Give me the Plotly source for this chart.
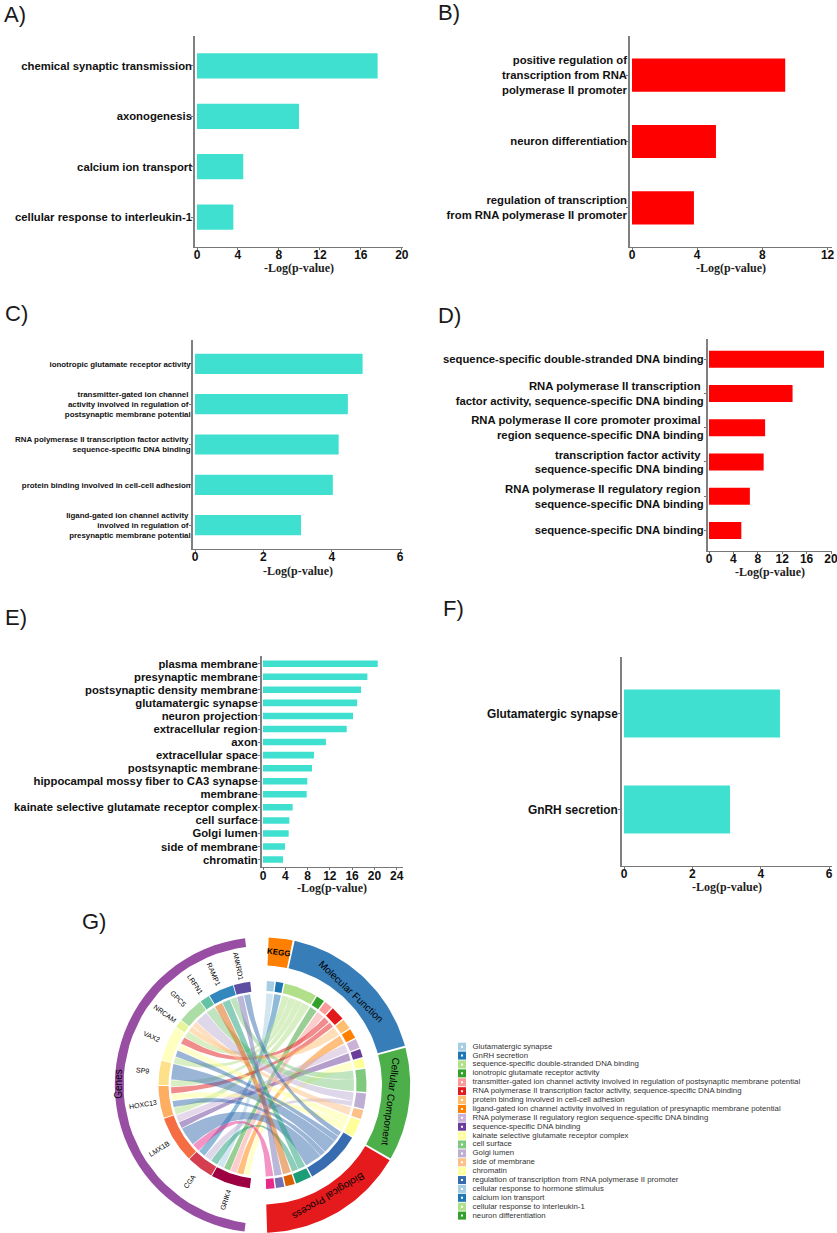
import math
import plotly.graph_objects as go

W, H = 837, 1233
TURQ, RED = "#40E0D0", "#FF0000"

# ---- bar data
a_labels = ["chemical synaptic transmission", "axonogenesis", "calcium ion transport", "cellular response to interleukin-1"]
a_values = [17.64, 9.96, 4.52, 3.55]
b_labels = ["positive regulation of<br>transcription from RNA<br>polymerase II promoter", "neuron differentiation",
            "regulation of transcription<br>from RNA polymerase II promoter"]
b_values = [9.4, 5.15, 3.8]
c_labels = ["ionotropic glutamate receptor activity",
            "transmitter-gated ion channel\u00a0<br>activity involved in regulation of\u00a0<br>postsynaptic membrane potential",
            "RNA polymerase II transcription factor activity\u00a0<br>sequence-specific DNA binding",
            "protein binding involved in cell-cell adhesion",
            "ligand-gated ion channel activity\u00a0<br>involved in regulation of\u00a0<br>presynaptic membrane potential"]
c_values = [4.9, 4.47, 4.2, 4.03, 3.1]
d_labels = ["sequence-specific double-stranded DNA binding",
            "RNA polymerase II transcription\u00a0<br>factor activity, sequence-specific DNA binding",
            "RNA polymerase II core promoter proximal\u00a0<br>region sequence-specific DNA binding",
            "transcription factor activity\u00a0<br>sequence-specific DNA binding",
            "RNA polymerase II regulatory region\u00a0<br>sequence-specific DNA binding",
            "sequence-specific DNA binding"]
d_values = [18.85, 13.7, 9.2, 8.96, 6.7, 5.3]
e_labels = ["plasma membrane", "presynaptic membrane", "postsynaptic density membrane", "glutamatergic synapse",
            "neuron projection", "extracellular region", "axon", "extracellular space", "postsynaptic membrane",
            "hippocampal mossy fiber to CA3 synapse", "membrane", "kainate selective glutamate receptor complex",
            "cell surface", "Golgi lumen", "side of membrane", "chromatin"]
e_values = [20.6, 18.74, 17.6, 16.9, 16.17, 15.03, 11.3, 9.16, 8.8, 7.96, 7.84, 5.33, 4.73, 4.61, 3.95, 3.6]
f_labels = ["Glutamatergic synapse", "GnRH secretion"]
f_values = [4.56, 3.1]

# ---- chord data
term_names = ["Glutamatergic synapse", "GnRH secretion", "sequence-specific double-stranded DNA binding",
              "ionotropic glutamate receptor activity",
              "transmitter-gated ion channel activity involved in regulation of postsynaptic membrane potential",
              "RNA polymerase II transcription factor activity, sequence-specific DNA binding",
              "protein binding involved in cell-cell adhesion",
              "ligand-gated ion channel activity involved in regulation of presynaptic membrane potential",
              "RNA polymerase II regulatory region sequence-specific DNA binding", "sequence-specific DNA binding",
              "kainate selective glutamate receptor complex", "cell surface", "Golgi lumen", "side of membrane",
              "chromatin", "regulation of transcription from RNA polymerase II promoter",
              "cellular response to hormone stimulus", "calcium ion transport", "cellular response to interleukin-1",
              "neuron differentiation"]
term_spans = [4.5, 4.5, 19.7, 5, 5, 8.4, 6, 5.9, 5.5, 5, 5.3, 13.8, 9.3, 5.4, 10.4, 33.3, 9.5, 5.5, 5, 5]
term_colors = ["#A6CEE3", "#1F78B4", "#B2DF8A", "#33A02C", "#FB9A99", "#E31A1C", "#FDBF6F", "#FF7F00", "#CAB2D6",
               "#6A3D9A", "#FFFF99", "#7FC97F", "#BEAED4", "#FDC086", "#FFFF99", "#386CB0", "#1B9E77", "#D95F02",
               "#7570B3", "#E7298A"]
legend_colors = term_colors[:16] + ["#A6CEE3", "#1F78B4", "#B2DF8A", "#33A02C"]
groups = ["KEGG", "Molecular Function", "Cellular Component", "Biological Process"]
group_counts = [2, 8, 5, 5]
group_colors = ["#FF7F00", "#377EB8", "#4DAF4A", "#E41A1C"]
gene_names = ["GRIK4", "CGA", "LMX1B", "HOXC13", "SP9", "VAX2", "NRCAM", "GPC5", "LRFN1", "RAMP1", "ANKRD1"]
gene_spans = [22.7, 15.5, 26.8, 18.4, 14, 20, 4.4, 14.7, 5.6, 14.5, 9.5]
gene_colors = ["#9E0142", "#D53E4F", "#F46D43", "#FDAE61", "#FEE08B", "#FFFFBF", "#E6F598", "#ABDDA4", "#66C2A5",
               "#3288BD", "#5E4FA2"]
link_terms = [10, 7, 4, 3, 0, 16, 12, 1, 19, 15, 9, 8, 2, 15, 14, 5, 2, 15, 2, 15, 14, 5, 2, 6, 13, 12, 11, 17, 16,
              11, 18, 15]
link_widths = [3.7, 4, 4, 4, 4, 4.5, 4.5, 4.5, 5, 12, 4, 4.2, 4.5, 4, 4, 4, 4, 10, 4, 4, 4, 4.5, 4, 3.5, 3.5, 8, 6,
               5, 5, 4, 4, 4]

# ---- page geometry
CX, CY = 262.5, 1085.0
R_LINK, R_IN0, R_IN1 = 91.5, 94.0, 104.0
R_G0, R_G1 = 119.5, 147.7
R_P0 = 139.0
RIGHT0, RIGHT1 = 2.4, 178.0
LEFT0, LEFT1 = 187.0, 353.2

fig = go.Figure()
anns = []


def label(x, y, text, size, angle=0, color="#000000", weight=400, align="center", family="Liberation Sans"):
    anns.append(dict(x=x, y=y, xref="x7", yref="y7", text=text, showarrow=False, textangle=angle, xanchor=align,
                     yanchor="middle", font=dict(family=family, size=size, color=color, weight=weight)))


def pt(theta, r):
    t = math.radians(theta)
    return CX + r * math.sin(t), CY - r * math.cos(t)


def arc(t0, t1, r, n=40):
    return [pt(t0 + (t1 - t0) * i / n, r) for i in range(n + 1)]


def add_poly(points, color, name):
    fig.add_trace(go.Scatter(x=[p[0] for p in points] + [points[0][0]], y=[p[1] for p in points] + [points[0][1]],
                             xaxis="x7", yaxis="y7", mode="lines", fill="toself", fillcolor=color,
                             line=dict(width=0), hoverinfo="text", text=name, showlegend=False))


def ring(t0, t1, r0, r1, color, name):
    add_poly(arc(t0, t1, r1) + arc(t1, t0, r0), color, name)


def rgba(h, a):
    return f"rgba({int(h[1:3],16)},{int(h[3:5],16)},{int(h[5:7],16)},{a})"


def bezier(p0, p2, n=40):
    out = []
    for i in range(n + 1):
        t = i / n
        out.append(((1 - t) ** 2 * p0[0] + 2 * t * (1 - t) * CX + t ** 2 * p2[0],
                    (1 - t) ** 2 * p0[1] + 2 * t * (1 - t) * CY + t ** 2 * p2[1]))
    return out


def bar_panel(idx, labels, values, color, x0, x1, ytop, ybot, zero, pxu, ticks, fs, title_y, standoff=-2, tfs=12):
    xn, yn = ("x" + str(idx), "y" + str(idx))
    fig.add_trace(go.Bar(y=labels, x=values, orientation="h", width=0.5, marker=dict(color=color, line=dict(width=0)),
                         xaxis=xn, yaxis=yn, showlegend=False, hovertemplate="%{x}<extra></extra>"))
    n = len(labels)
    m = 0.59
    fig.layout["xaxis" + str(idx)] = dict(
        domain=[x0 / W, x1 / W], range=[(x0 - zero) / pxu, (x1 - zero) / pxu], anchor=yn, tickvals=ticks,
        automargin=False, showgrid=False, zeroline=False, showline=True, linecolor="#777777", linewidth=1,
        ticks="outside", ticklen=2, tickcolor="#777777", ticklabelstandoff=-5, ticklabeloverflow="allow",
        tickfont=dict(family="Liberation Sans", size=tfs, color="#111111", weight=700))
    fig.layout["yaxis" + str(idx)] = dict(
        domain=[1 - ybot / H, 1 - ytop / H], range=[n - 1 + m, -m], anchor=xn, type="category",
        automargin=False, categoryorder="array", categoryarray=labels, tickmode="array", tickvals=labels,
        ticktext=labels, showgrid=False, zeroline=False, showline=True,
        linecolor="#808080", linewidth=1.5, ticks="outside", ticklen=2, tickcolor="#777777",
        ticklabelstandoff=standoff,
        tickfont=dict(family="Liberation Sans", size=fs, color="#111111", weight=700))
    label((x0 + x1) / 2, title_y, "-Log(p-value)", 12, color="#222222", weight=700, family="Liberation Serif")


bar_panel(1, a_labels, a_values, TURQ, 195, 402.7, 36, 247, 197, 10.24, [0, 4, 8, 12, 16, 20], 11.3, 268, -3)
bar_panel(2, b_labels, b_values, RED, 630, 832, 36, 247, 632, 16.3, [0, 4, 8, 12], 11.3, 268, -3)
bar_panel(3, c_labels, c_values, TURQ, 193, 402, 340, 549, 195, 34.2, [0, 2, 4, 6], 7.9, 571, -3)
bar_panel(4, d_labels, d_values, RED, 707.7, 832, 339, 550.7, 709, 6.1, [0, 4, 8, 12, 16, 20], 11.3, 572)
bar_panel(5, e_labels, e_values, TURQ, 261.7, 402.7, 656, 867.3, 263, 5.57, [0, 4, 8, 12, 16, 20, 24], 11.3, 888)
bar_panel(6, f_labels, f_values, TURQ, 622, 832, 657, 866, 624, 34.2, [0, 2, 4, 6], 11.9, 887)

# ---- chord: angular positions derived from the spans
TERM_GAP = 0.8
scale = (RIGHT1 - RIGHT0 - TERM_GAP * (len(term_spans) - 1)) / sum(term_spans)
term_pos, a = [], RIGHT0
for s in term_spans:
    term_pos.append((a, a + s * scale))
    a += s * scale + TERM_GAP

GENE_GAP = 0.5
g_scale = (LEFT1 - LEFT0 - GENE_GAP * (len(gene_spans) - 1)) / sum(gene_spans)
gene_pos, a = [], LEFT0
for s in gene_spans:
    gene_pos.append((a, a + s * g_scale))
    a += s * g_scale + GENE_GAP

LINK_GAP = 0.45
l_scale = (LEFT1 - 1 - LEFT0 - 1 - LINK_GAP * (len(link_widths) - 1)) / sum(link_widths)
link_gene_pos, a = [], LEFT0 + 1
for w in link_widths:
    link_gene_pos.append((a, a + w * l_scale))
    a += w * l_scale + LINK_GAP

link_term_pos = [None] * len(link_terms)
for ti, (t0, t1) in enumerate(term_pos):
    members = [i for i, t in enumerate(link_terms) if t == ti]
    members.sort(reverse=True)
    tot = sum(link_widths[i] for i in members)
    gap = 0.25
    usable = (t1 - t0) - gap * (len(members) - 1)
    b = t0
    for i in members:
        d = usable * link_widths[i] / tot
        link_term_pos[i] = (b, b + d)
        b += d + gap

for i, ti in enumerate(link_terms):
    g0, g1 = link_gene_pos[i]
    t0, t1 = link_term_pos[i]
    pts = arc(g0, g1, R_LINK, 8) + bezier(pt(g1, R_LINK), pt(t0, R_LINK)) + arc(t0, t1, R_LINK, 8) + \
        bezier(pt(t1, R_LINK), pt(g0, R_LINK))
    add_poly(pts, rgba(term_colors[ti], 0.5), term_names[ti])

for (t0, t1), c, n in zip(term_pos, term_colors, term_names):
    ring(t0, t1, R_IN0, R_IN1, c, n)
for (g0, g1), c, n in zip(gene_pos, gene_colors, gene_names):
    ring(g0, g1, R_IN0, R_IN1, c, n)

start = 0
for name, count, color in zip(groups, group_counts, group_colors):
    t0 = term_pos[start][0]
    t1 = term_pos[start + count - 1][1]
    ring(t0 + (0.2 if start else 0), t1 + 0.2, R_G0, R_G1, color, name)
    mid = (t0 + t1) / 2
    x, y = pt(mid, 134 if name == "KEGG" else 129)
    label(x, y, name, 8 if name == "KEGG" else 10, angle=mid, weight=700 if name == "KEGG" else 400)
    start += count

ring(LEFT0, LEFT1, R_P0, R_G1, "#984EA3", "Genes")
x, y = pt((LEFT0 + LEFT1) / 2, 143.5)
label(x, y, "Genes", 10, angle=-90)

for name, (g0, g1) in zip(gene_names, gene_pos):
    mid = (g0 + g1) / 2
    x, y = pt(mid, 121)
    label(x, y, name, 7, angle=mid - 270)

# ---- legend
LEG_X, LEG_TX, LEG_Y0, LEG_DY = 462, 472.5, 1046.7, 8.89
leg_y = [LEG_Y0 + i * LEG_DY for i in range(len(term_names))]
fig.add_trace(go.Scatter(x=[LEG_X] * len(leg_y), y=leg_y, xaxis="x7", yaxis="y7", mode="markers", showlegend=False,
                         marker=dict(symbol="square", size=8, color=legend_colors, line=dict(width=0)),
                         hoverinfo="skip"))
fig.add_trace(go.Scatter(x=[LEG_X] * len(leg_y), y=leg_y, xaxis="x7", yaxis="y7", mode="markers", showlegend=False,
                         marker=dict(symbol="square", size=2, color="white", line=dict(width=0)), hoverinfo="skip"))
fig.add_trace(go.Scatter(x=[LEG_TX] * len(leg_y), y=leg_y, xaxis="x7", yaxis="y7", mode="text", showlegend=False,
                         text=term_names, textposition="middle right",
                         textfont=dict(family="Liberation Sans", size=7.8, color="#333333"), hoverinfo="skip"))

# ---- panel letters
panel_letters = ["A)", "B)", "C)", "D)", "E)", "F)", "G)"]
panel_x = [2, 436, 3, 436, 3, 441, 80]
panel_y = [14, 12, 313, 315, 617, 608, 921]
for s, x, y in zip(panel_letters, panel_x, panel_y):
    label(x, y, s, 22, align="left", color="#1a1a1a")

fig.update_layout(
    template="none", width=W, height=H, margin=dict(l=0, r=0, t=0, b=0, pad=0), paper_bgcolor="white",
    plot_bgcolor="rgba(0,0,0,0)", showlegend=False, annotations=anns,
    xaxis7=dict(domain=[0, 1], range=[0, W], visible=False, fixedrange=True, anchor="y7", automargin=False),
    yaxis7=dict(domain=[0, 1], range=[H, 0], visible=False, fixedrange=True, anchor="x7", automargin=False),
)
fig.write_html("out.html", config=dict(displayModeBar=False),
               post_script="document.body.style.margin='0';document.body.style.overflow='hidden';")
